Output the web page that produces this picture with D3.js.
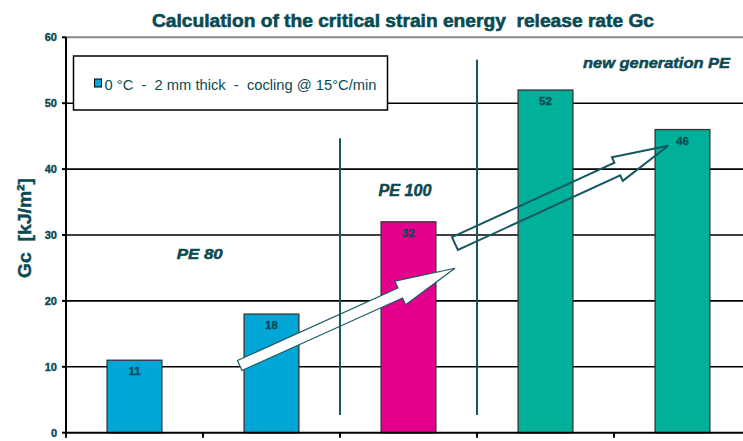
<!DOCTYPE html>
<html>
<head>
<meta charset="utf-8">
<script src="https://cdn.jsdelivr.net/npm/d3@7/dist/d3.min.js"></script>
<style>
  html, body { margin: 0; padding: 0; background: #fff; }
  svg { display: block; }
  text { font-family: "Liberation Sans", Arial, sans-serif; }
</style>
</head>
<body>
<svg id="chart" width="743" height="441"></svg>
<script>
// Specimens, grouped by PE generation
const specimens = ["PE 80 - a", "PE 80 - b", "PE 100", "new PE - a", "new PE - b"];
const generation = ["PE 80", "PE 80", "PE 100", "new generation PE", "new generation PE"];
const gcValues = [11, 18, 32, 52, 46];
const yTicks = [0, 10, 20, 30, 40, 50, 60];
const groupLabels = ["PE 80", "PE 100", "new generation PE"];
const legendLabel = "0 °C  -  2 mm thick  -  cocling @ 15°C/min";
const chartTitle = "Calculation of the critical strain energy  release rate Gc";
const yTitle = "Gc  [kJ/m²]";

const ink = "#0b4a52";
const fills = { "PE 80": "#00a6d6", "PE 100": "#e4008c", "new generation PE": "#00b09a" };

const svg = d3.select("#chart");
const W = 743, H = 441;
const plotL = 66, plotR = 751, plotT = 37.3, plotB = 432.7;

const x = d3.scaleBand().domain(specimens).range([plotL, plotR]).paddingInner(0.6).paddingOuter(0.3);
// continuous position along the category axis (index units, bands centred on integers)
const xi = d3.scaleLinear().domain([-0.5, specimens.length - 0.5]).range([plotL, plotR]);
const y = d3.scaleLinear().domain([0, 60]).range([plotB, plotT]);

// horizontal gridlines
svg.append("g").selectAll("line").data(yTicks.filter(t => t > 0)).join("line")
  .attr("x1", plotL).attr("x2", W)
  .attr("y1", d => y(d)).attr("y2", d => y(d))
  .attr("stroke", d => d === 60 ? "#888" : "#000")
  .attr("stroke-width", d => d === 60 ? 2 : 1.6);

// bars
svg.append("g").selectAll("rect").data(gcValues).join("rect")
  .attr("x", (d, i) => x(specimens[i]))
  .attr("width", x.bandwidth())
  .attr("y", d => y(d))
  .attr("height", d => y(0) - y(d))
  .attr("fill", (d, i) => fills[generation[i]])
  .attr("stroke", "#333").attr("stroke-width", 1.3);

// value labels inside bar tops
svg.append("g").selectAll("text").data(gcValues).join("text")
  .attr("x", (d, i) => x(specimens[i]) + x.bandwidth() / 2)
  .attr("y", d => y(d) + 15)
  .attr("text-anchor", "middle")
  .attr("font-size", 11.5).attr("font-weight", "bold")
  .attr("fill", ink).attr("stroke", ink).attr("stroke-width", 0.3)
  .text(d => d);

// block arrows
function arrowPoints(x1, y1, x2, y2, shaft, head, headLen) {
  const dx = x2 - x1, dy = y2 - y1, L = Math.hypot(dx, dy);
  const ux = dx / L, uy = dy / L, nx = -uy, ny = ux;
  const bx = x2 - ux * headLen, by = y2 - uy * headLen;
  const p = (px, py, s) => [px + nx * s, py + ny * s];
  return [p(x1, y1, -shaft), p(bx, by, -shaft), p(bx, by, -head), [x2, y2],
          p(bx, by, head), p(bx, by, shaft), p(x1, y1, shaft)];
}
const closed = d3.line().curve(d3.curveLinearClosed);

svg.append("path")
  .attr("d", closed(arrowPoints(xi(0.768), y(10.2), xi(2.339), y(24.95), 5.5, 13, 60)))
  .attr("fill", "#fff").attr("stroke", "#1a5c64").attr("stroke-width", 1.2)
  .attr("stroke-linejoin", "miter");

svg.append("path")
  .attr("d", closed(arrowPoints(xi(2.339), y(28.7), xi(3.896), y(43.55), 7, 13, 56)))
  .attr("fill", "none").attr("stroke", "#175860").attr("stroke-width", 2)
  .attr("stroke-linejoin", "miter");

// separators between generations
const separators = [[1.5, 44.7], [2.5, 56.6]];
svg.append("g").selectAll("line").data(separators).join("line")
  .attr("x1", d => xi(d[0])).attr("x2", d => xi(d[0]))
  .attr("y1", d => y(d[1])).attr("y2", y(2.7))
  .attr("stroke", "#175860").attr("stroke-width", 2);

// axes
svg.append("line").attr("x1", plotL).attr("x2", plotL).attr("y1", y(60)).attr("y2", y(0) + 1)
  .attr("stroke", "#000").attr("stroke-width", 2);
svg.append("line").attr("x1", plotL - 1).attr("x2", W).attr("y1", y(0)).attr("y2", y(0))
  .attr("stroke", "#000").attr("stroke-width", 2);

svg.append("g").selectAll("line").data(yTicks).join("line")
  .attr("x1", plotL - 4).attr("x2", plotL).attr("y1", d => y(d)).attr("y2", d => y(d))
  .attr("stroke", "#000").attr("stroke-width", 2);
svg.append("g").selectAll("text").data(yTicks).join("text")
  .attr("x", plotL - 9).attr("y", d => y(d) + 4)
  .attr("text-anchor", "end").attr("font-size", 11).attr("font-weight", "bold")
  .attr("fill", ink).attr("stroke", ink).attr("stroke-width", 0.4)
  .text(d => d);

const bounds = d3.range(specimens.length + 1).map(i => i - 0.5);
svg.append("g").selectAll("line").data(bounds).join("line")
  .attr("x1", d => xi(d)).attr("x2", d => xi(d))
  .attr("y1", y(0)).attr("y2", y(0) + 5)
  .attr("stroke", "#000").attr("stroke-width", 2);

// legend
const lg = svg.append("g");
lg.append("rect").attr("x", 73.5).attr("y", 56).attr("width", 314).attr("height", 54)
  .attr("fill", "#fff").attr("stroke", "#000").attr("stroke-width", 1.5);
lg.append("rect").attr("x", 94.5).attr("y", 79).attr("width", 7).attr("height", 8)
  .attr("fill", fills["PE 80"]).attr("stroke", "#000").attr("stroke-width", 1);
lg.append("text").attr("x", 104.5).attr("y", 89.5)
  .attr("font-size", 14).attr("fill", ink)
  .style("white-space", "pre")
  .attr("textLength", 272).attr("lengthAdjust", "spacingAndGlyphs")
  .text(legendLabel);

// generation labels
const groupPos = [[0.476, 26.3, 46, 15], [1.974, 35.9, 53, 16], [3.81, 55.3, 147, 15]];
svg.append("g").selectAll("text").data(groupLabels).join("text")
  .attr("x", (d, i) => xi(groupPos[i][0]))
  .attr("y", (d, i) => y(groupPos[i][1]))
  .attr("text-anchor", "middle")
  .attr("font-size", (d, i) => groupPos[i][3])
  .attr("font-weight", "bold").attr("font-style", "italic")
  .attr("fill", ink).attr("stroke", ink).attr("stroke-width", 0.5)
  .attr("textLength", (d, i) => groupPos[i][2]).attr("lengthAdjust", "spacingAndGlyphs")
  .text(d => d);

// title
svg.append("text").attr("x", 403).attr("y", 27)
  .attr("text-anchor", "middle").attr("font-size", 19).attr("font-weight", "bold")
  .attr("fill", ink).attr("stroke", ink).attr("stroke-width", 0.6)
  .style("white-space", "pre")
  .attr("textLength", 502).attr("lengthAdjust", "spacingAndGlyphs")
  .text(chartTitle);

// y axis title
svg.append("text")
  .attr("transform", "translate(31,228) rotate(-90)")
  .attr("text-anchor", "middle").attr("font-size", 19).attr("font-weight", "bold")
  .attr("fill", ink).attr("stroke", ink).attr("stroke-width", 0.4)
  .style("white-space", "pre")
  .attr("textLength", 100).attr("lengthAdjust", "spacingAndGlyphs")
  .text(yTitle);
</script>
</body>
</html>
